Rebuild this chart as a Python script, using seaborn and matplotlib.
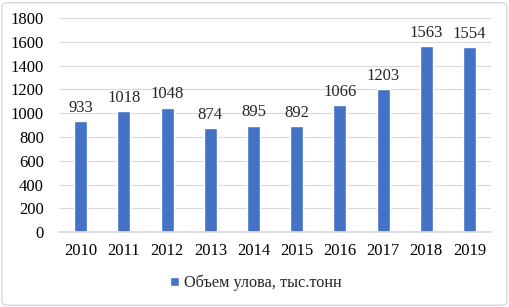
import matplotlib
matplotlib.use("Agg")
import matplotlib.pyplot as plt
import seaborn as sns
import pandas as pd
from matplotlib.patches import FancyBboxPatch

years = ["2010", "2011", "2012", "2013", "2014", "2015", "2016", "2017", "2018", "2019"]
catch = [933, 1018, 1048, 874, 895, 892, 1066, 1203, 1563, 1554]
series_label = "Объем улова, тыс.тонн"

df = pd.DataFrame({"year": years, "catch": catch})

sns.set_theme(style="white")
plt.rcParams["font.family"] = ["Liberation Serif", "DejaVu Serif"]

fig = plt.figure(figsize=(5.1, 3.07), dpi=100)
ax = fig.add_axes([0.116, 0.244, 0.847, 0.697])

sns.barplot(data=df, x="year", y="catch", color="#4472C4", saturation=1,
            width=0.3, ax=ax, label=series_label)

ax.set_ylim(0, 1800)
ax.set_yticks(range(0, 1801, 200))
ax.yaxis.grid(True, color="#d9d9d9", linewidth=0.8)
ax.set_axisbelow(True)
for s in ["top", "right", "left"]:
    ax.spines[s].set_visible(False)
ax.spines["bottom"].set_color("#d9d9d9")
ax.tick_params(axis="both", length=0, labelsize=12, colors="#000000")
ax.tick_params(axis="y", pad=11)
ax.tick_params(axis="x", pad=8)
ax.set_xlabel("")
ax.set_ylabel("")

for p, v in zip(ax.patches, catch):
    ax.text(p.get_x() + p.get_width() / 2, v + 45, str(v), ha="center", va="bottom",
            fontsize=12)

ax.legend_.remove() if ax.legend_ else None
handles, labels = ax.get_legend_handles_labels()
fig.legend(handles, labels, loc="center", bbox_to_anchor=(0.502, 0.078), frameon=False,
           fontsize=11.7, handlelength=0.55, handleheight=0.55, handletextpad=0.3)

border = FancyBboxPatch((0.004, 0.006), 0.99, 0.985, boxstyle="round,pad=0,rounding_size=0.012",
                        transform=fig.transFigure, fill=False, edgecolor="#d9d9d9", linewidth=1)
fig.patches.append(border)

fig.savefig("out.png", dpi=100)
